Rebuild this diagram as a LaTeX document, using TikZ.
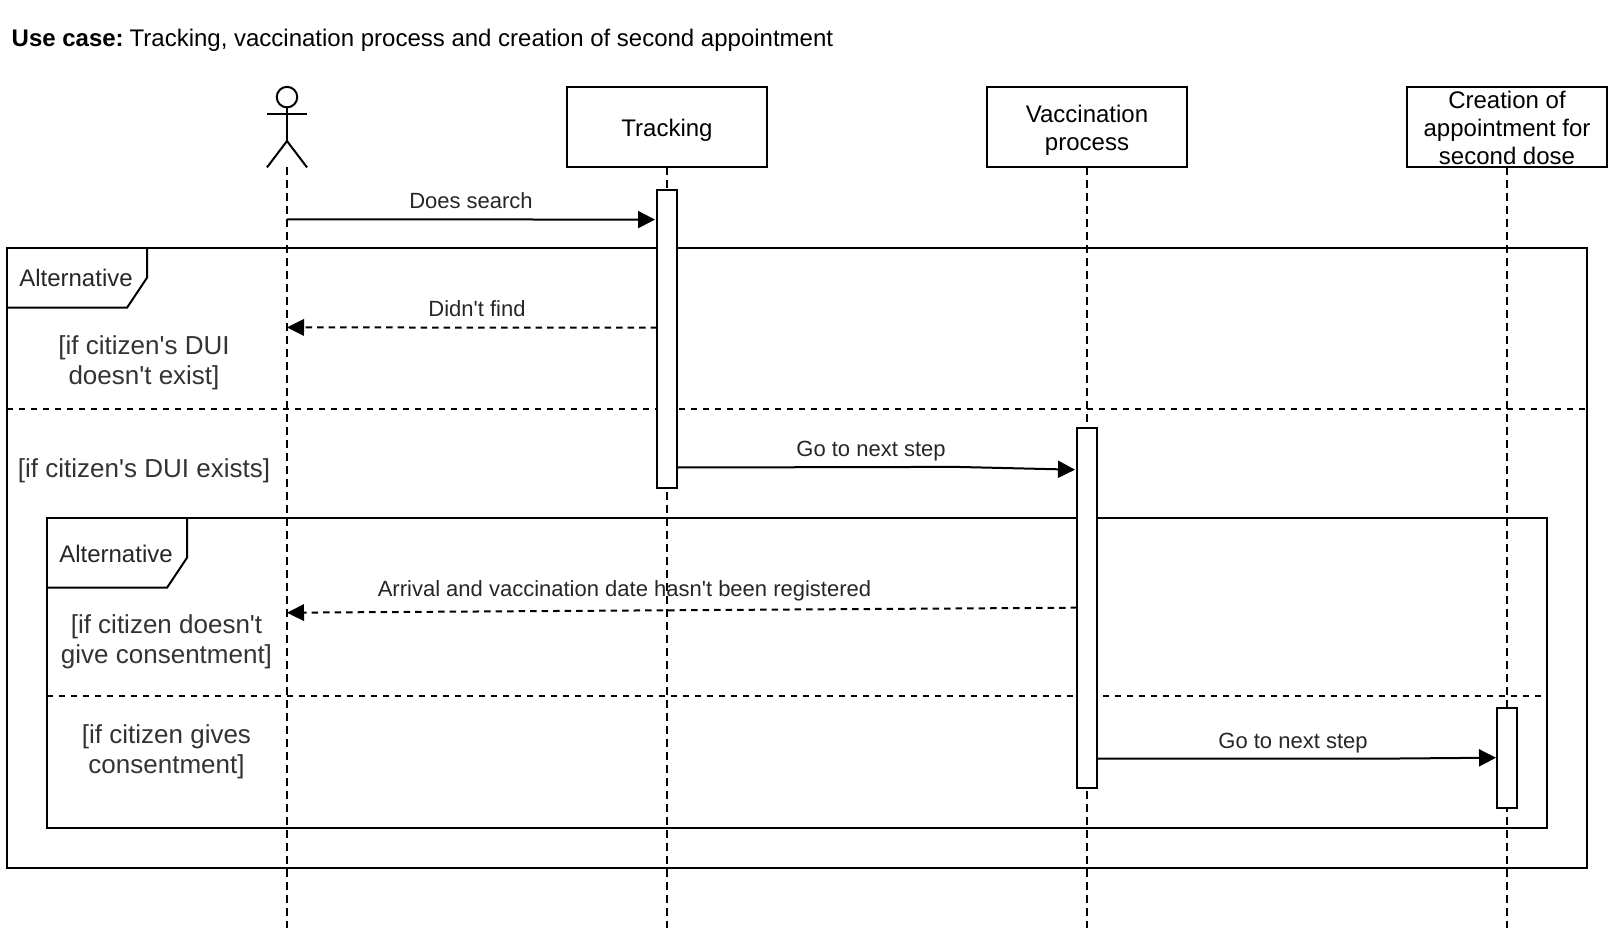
\documentclass[tikz,border=0pt]{standalone}
\usepackage{fontspec}
\setmainfont{Liberation Sans}[Ligatures=TeXOff]
\usetikzlibrary{arrows.meta}
\tikzset{
  frame/.style={draw, line width=2pt, outer sep=0pt},
  tabline/.style={line width=2pt},
  divider/.style={line width=2pt, dash pattern=on 6pt off 6pt},
  lifeline/.style={line width=2pt, dash pattern=on 8pt off 5pt},
  headbox/.style={draw, fill=white, line width=2pt, outer sep=0pt, minimum width=200pt, minimum height=80pt, inner sep=0pt, font=\fontsize{24}{28}\selectfont, align=center},
  bar/.style={draw, fill=white, line width=2pt, outer sep=0pt, minimum width=20pt, inner sep=0pt},
  msg/.style={line width=2pt, -{Triangle[length=17pt, width=17pt]}},
  reply/.style={line width=2pt, dash pattern=on 6.5pt off 5pt, -{Triangle[length=17pt, width=17pt, line width=0pt]}},
  msglabel/.style={font=\fontsize{22}{26}\selectfont, text=black!85},
  altlabel/.style={font=\fontsize{24}{28}\selectfont, text=black!85},
  guard/.style={font=\fontsize{26}{30}\selectfont, text=black!80, align=center},
}
\begin{document}
\begin{tikzpicture}[x=1pt, y=-1pt]
    \useasboundingbox (0, -0.7) rectangle (1622, 943.3);
    \node[anchor=west, inner sep=0pt, font=\fontsize{24}{29}\selectfont] (title) at (11.5, 39.5)
      {\textbf{Use case:} \kern-3pt Tracking, vaccination process and creation of second appointment};

    \node[frame, minimum width=1580pt, minimum height=620pt] (frame1) at (797, 557) {};
    \node[frame, minimum width=1500pt, minimum height=310pt] (frame2) at (797, 672) {};
    \draw[tabline] ([xshift=140pt]frame1.north west) -- ++(0, 30) -- ++(-20, 30) -- ([yshift=-60pt]frame1.north west);
    \draw[tabline] ([xshift=140pt]frame2.north west) -- ++(0, 40) -- ++(-20, 30) -- ([yshift=-70pt]frame2.north west);
    \node[altlabel] (alt1) at (76, 277.5) {Alternative};
    \node[altlabel] (alt2) at (116, 553.5) {Alternative};
    \draw[divider] ([yshift=-161.5pt]frame1.north west) -- ([yshift=-161.5pt]frame1.north east);
    \draw[divider] ([yshift=-178pt]frame2.north west) -- ([yshift=-178pt, xshift=-6pt]frame2.north east);

    \node[headbox] (box1) at (667, 126.7) {\rule{0pt}{24pt}Tracking};
    \node[headbox] (box2) at (1087, 126.7) {\rule{0pt}{24pt}Vaccination\\process};
    \node[headbox] (box3) at (1507, 126.7) {\rule{0pt}{19pt}Creation of\\appointment for\\second dose};

    \node[circle, draw, line width=2pt, minimum size=20.5pt, inner sep=0pt, outer sep=0pt] (head) at (287, 96.4) {};
    \coordinate (hip) at (287, 140.3);
    \coordinate (foot) at (287, 166.7);
    \coordinate (lifeend) at (0, 927);
    \draw[tabline] (head.south) -- (hip);
    \draw[tabline] (267, 113.7) -- (307, 113.7);
    \draw[tabline] (267, 166.7) -- (hip) -- (307, 166.7);

    \draw[lifeline] (foot) -- (foot |- lifeend);
    \draw[lifeline] (box1.south) -- (box1.south |- lifeend);
    \draw[lifeline] (box2.south) -- (box2.south |- lifeend);
    \draw[lifeline] (box3.south) -- (box3.south |- lifeend);

    \node[bar, minimum height=298pt] (bar1) at (667, 338) {};
    \node[bar, minimum height=360pt] (bar2) at (1087, 607) {};
    \node[bar, minimum height=100pt] (bar3) at (1507, 757) {};

    \draw[msg] (foot |- 0, 218.6) -- ([yshift=-29.9pt, xshift=-2pt]bar1.north west);
    \draw[reply] ([yshift=-138pt]bar1.north west) -- (foot |- 0, 326.7);
    \draw[msg] ([yshift=-277.8pt]bar1.north east) -- (956, 466.2) -- ([yshift=-42pt, xshift=-2pt]bar2.north west);
    \draw[reply] ([yshift=-180pt]bar2.north west) -- (foot |- 0, 612);
    \draw[msg] ([yshift=-331pt]bar2.north east) -- (1375, 758) -- ([yshift=-50pt, xshift=-1pt]bar3.north west);

    \node[msglabel] (does) at (471, 200) {Does search};
    \node[msglabel] (find) at (477, 307.5) {Didn't find};
    \node[msglabel] (next1) at (871, 450.5) {Go to next step};
    \node[msglabel] (arrival) at (624.5, 590.5) {Arrival and vaccination date hasn't been registered};
    \node[msglabel] (next2) at (1293, 742.2) {Go to next step};

    \node[guard] (guard1) at (144, 362.5) {[if citizen's DUI\\doesn't exist]};
    \node[guard] (guard2) at (144, 470) {[if citizen's DUI exists]};
    \node[guard] (guard3) at (166.5, 641) {[if citizen doesn't\\give consentment]};
    \node[guard] (guard4) at (166.5, 751) {[if citizen gives\\consentment]};
\end{tikzpicture}
\end{document}
